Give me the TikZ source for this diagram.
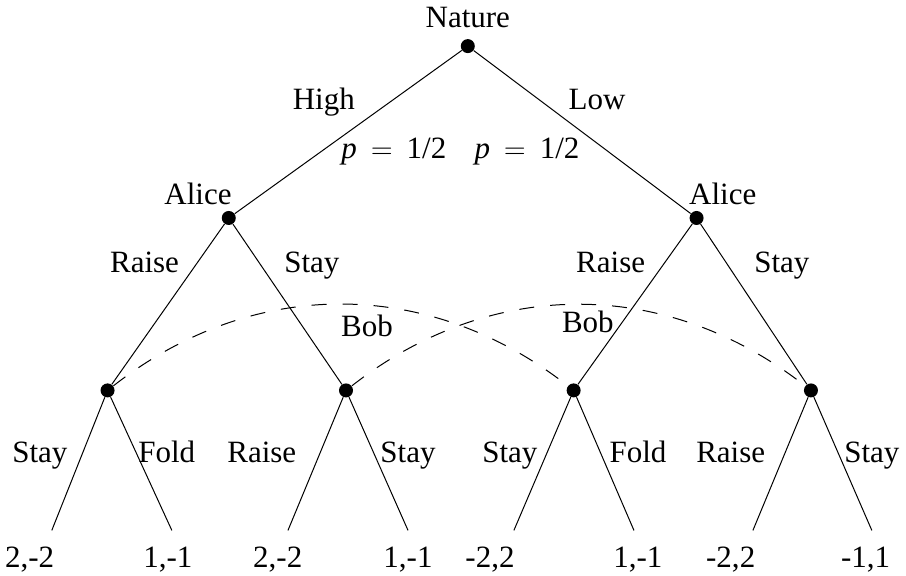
\documentclass[tikz,border=0pt]{standalone}
\usepackage{fontspec}
\setmainfont{Liberation Serif}
\usepackage{tikz}
\usetikzlibrary{positioning}

\newcommand{\halfprob}{\textit{p}\hspace{0.45em}$=$\hspace{0.45em}1/2}

\begin{document}
\begin{tikzpicture}[
  font=\fontsize{15.5}{18}\selectfont,
  choicept/.style={circle, fill=black, inner sep=0pt, minimum size=7pt},
  branch/.style={line width=0.5pt},
  infoset/.style={line width=0.5pt, dash pattern=on 7.5pt off 8pt},
  lbl/.style={anchor=base, inner sep=0pt}
]
\useasboundingbox (-8.22,0.81) rectangle (7.70,-9.31);

% decision points
\node[choicept] (nature) at (0,0) {};
\node[choicept] (aliceL) at (-4.20,-3.02) {};
\node[choicept] (aliceR) at (4.02,-3.02) {};
\node[choicept] (bob1) at (-6.33,-6.05) {};
\node[choicept] (bob2) at (-2.14,-6.05) {};
\node[choicept] (bob3) at (1.86,-6.05) {};
\node[choicept] (bob4) at (6.03,-6.05) {};

% leaf ends
\coordinate (leaf1) at (-7.31,-8.51);
\coordinate (leaf2) at (-5.20,-8.51);
\coordinate (leaf3) at (-3.16,-8.51);
\coordinate (leaf4) at (-1.05,-8.51);
\coordinate (leaf5) at (0.81,-8.51);
\coordinate (leaf6) at (2.92,-8.51);
\coordinate (leaf7) at (5.01,-8.51);
\coordinate (leaf8) at (7.10,-8.51);

% branches
\draw[branch] (nature) -- (aliceL);
\draw[branch] (nature) -- (aliceR);
\draw[branch] (aliceL) -- (bob1);
\draw[branch] (aliceL) -- (bob2);
\draw[branch] (aliceR) -- (bob3);
\draw[branch] (aliceR) -- (bob4);
\draw[branch] (bob1) -- (leaf1);
\draw[branch] (bob1) -- (leaf2);
\draw[branch] (bob2) -- (leaf3);
\draw[branch] (bob2) -- (leaf4);
\draw[branch] (bob3) -- (leaf5);
\draw[branch] (bob3) -- (leaf6);
\draw[branch] (bob4) -- (leaf7);
\draw[branch] (bob4) -- (leaf8);

% information sets
\draw[infoset] (bob1) to[bend left=38] (bob3);
\draw[infoset] (bob2) to[bend left=38] (bob4);

% players
\node[lbl] (natureLbl) at (0,0.32) {Nature};
\node[lbl] (aliceLLbl) at (-4.74,-2.79) {Alice};
\node[lbl] (aliceRLbl) at (4.48,-2.79) {Alice};
\node[lbl] (bobLLbl) at (-1.77,-5.11) {Bob};
\node[lbl] (bobRLbl) at (2.11,-5.04) {Bob};

% moves
\node[lbl] (high) at (-2.53,-1.12) {High};
\node[lbl] (low) at (2.27,-1.12) {Low};
\node[lbl] (probL) at (-1.30,-1.97) {\halfprob};
\node[lbl] (probR) at (1.04,-1.97) {\halfprob};
\node[lbl] (raiseL) at (-5.68,-3.97) {Raise};
\node[lbl] (stayL) at (-2.74,-3.97) {Stay};
\node[lbl] (raiseR) at (2.51,-3.97) {Raise};
\node[lbl] (stayR) at (5.52,-3.97) {Stay};
\node[lbl] (stay1) at (-7.52,-7.31) {Stay};
\node[lbl] (fold1) at (-5.29,-7.31) {Fold};
\node[lbl] (raise2) at (-3.62,-7.31) {Raise};
\node[lbl] (stay2) at (-1.05,-7.31) {Stay};
\node[lbl] (stay3) at (0.74,-7.31) {Stay};
\node[lbl] (fold3) at (2.99,-7.31) {Fold};
\node[lbl] (raise4) at (4.62,-7.31) {Raise};
\node[lbl] (stay4) at (7.10,-7.31) {Stay};

% payoffs
\node[lbl] (pay1) at (-7.70,-9.17) {2,-2};
\node[lbl] (pay2) at (-5.27,-9.17) {1,-1};
\node[lbl] (pay3) at (-3.34,-9.17) {2,-2};
\node[lbl] (pay4) at (-1.05,-9.17) {1,-1};
\node[lbl] (pay5) at (0.39,-9.17) {-2,2};
\node[lbl] (pay6) at (2.99,-9.17) {1,-1};
\node[lbl] (pay7) at (4.62,-9.17) {-2,2};
\node[lbl] (pay8) at (6.99,-9.17) {-1,1};
\end{tikzpicture}
\end{document}
